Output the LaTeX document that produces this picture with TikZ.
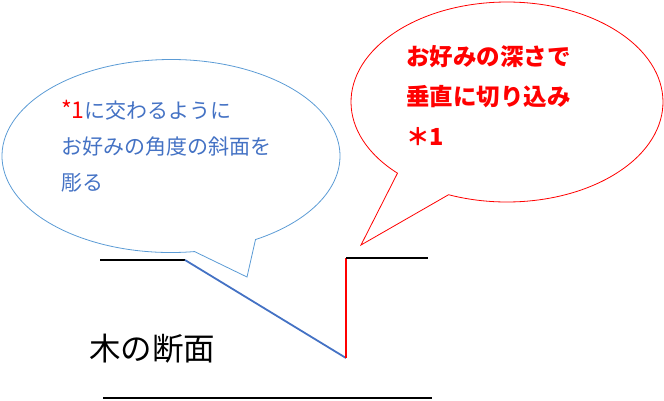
\documentclass[tikz,border=0pt]{standalone}
\usepackage{fontspec}
\setmainfont{Noto Sans CJK JP}
\usetikzlibrary{positioning}
\definecolor{calloutblue}{HTML}{5B9BD5}
\definecolor{slopeblue}{HTML}{4472C4}

\begin{document}
\begin{tikzpicture}[x=1pt,y=-1pt]
		\tikzstyle{every node}+=[inner sep=0pt]
		\tikzstyle{cut}=[line width=1.8pt]
		\tikzstyle{bubble}=[line width=0.8pt]
		\useasboundingbox (0,0) rectangle (664,400);
		% profile of the wood
		\coordinate (lefttop) at (100,260);
		\coordinate (slopetop) at (185,260);
		\coordinate (cutbottom) at (346,358);
		\coordinate (cuttop) at (346,258);
		\coordinate (righttop) at (428,258);
		\coordinate (baseleft) at (103,398);
		\coordinate (baseright) at (432,398);
		\draw [cut,black] (lefttop) -- (slopetop);
		\draw [cut,slopeblue] (slopetop) -- (cutbottom);
		\draw [cut,red] (cutbottom) -- (cuttop);
		\draw [cut,black] (cuttop) -- (righttop);
		\draw [cut,black] (baseleft) -- (baseright);
		\node [anchor=west,font=\fontsize{31.5}{31.5}\selectfont] (section) at (89,349) {木の断面};
		% callouts
		\draw [bubble,calloutblue] (171,156) ++(82:169 and 96.5) arc [start angle=82,end angle=420,x radius=169,y radius=96.5] -- (247,277) -- cycle;
		\node [anchor=west,align=left,text=slopeblue,font=\fontsize{21}{36}\selectfont] (slopenote) at (61,146) {\textcolor{red}{\fontsize{23}{36}\selectfont*1}に交わるように\\お好みの角度の斜面を\\彫る};
		\draw [bubble,red] (507,102) ++(134.6:156 and 100) arc [start angle=134.6,end angle=472,x radius=156,y radius=100] -- (361,245) -- cycle;
		\node [anchor=west,align=left,text=red,font=\bfseries\fontsize{23.5}{40}\selectfont] (depthnote) at (406,96) {お好みの深さで\\垂直に切り込み\\＊1};
\end{tikzpicture}
\end{document}
